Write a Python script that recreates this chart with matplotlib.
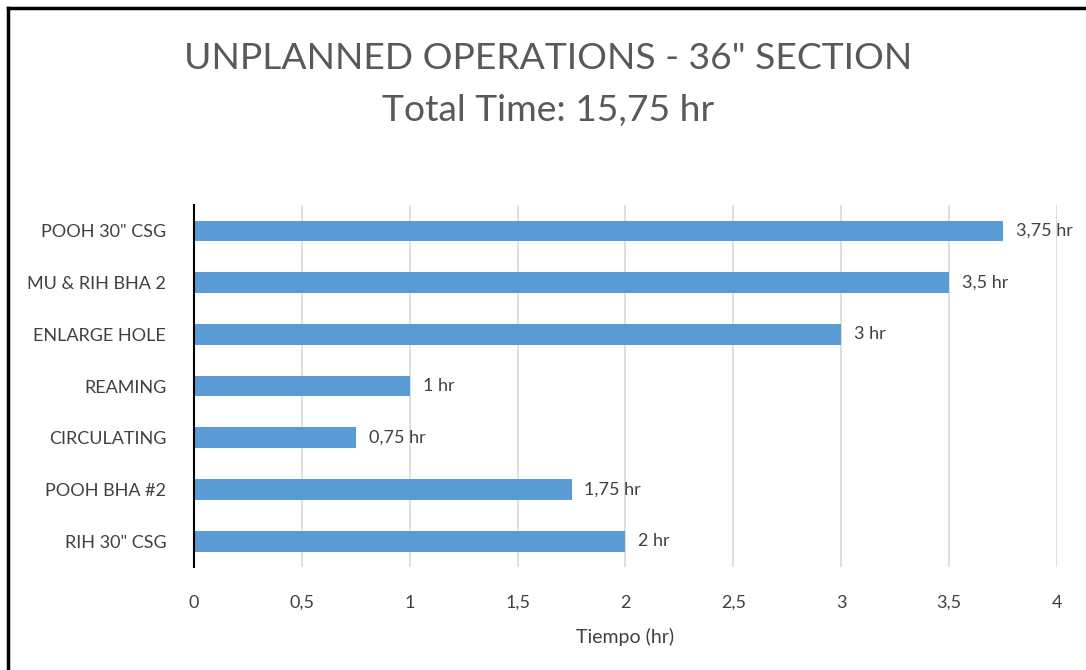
import matplotlib.pyplot as plt
from matplotlib.lines import Line2D

# data (top to bottom as shown)
activities = ['POOH 30" CSG', 'MU & RIH BHA 2', 'ENLARGE HOLE', 'REAMING',
              'CIRCULATING', 'POOH BHA #2', 'RIH 30" CSG']
hours = [3.75, 3.5, 3, 1, 0.75, 1.75, 2]
xticks = [0, 0.5, 1, 1.5, 2, 2.5, 3, 3.5, 4]

plt.rcParams['font.family'] = ['Lato', 'DejaVu Sans']
txt = '#404040'

fig = plt.figure(figsize=(10.86, 6.70), dpi=100)
ax = fig.add_axes([0.1786, 0.1537, 0.7947, 0.5403])

ypos = list(range(len(activities)))[::-1]
ax.barh(ypos, hours, height=0.4, color='#5B9BD5', zorder=3)

for y, h in zip(ypos, hours):
    lab = ('%g' % h).replace('.', ',') + ' hr'
    ax.text(h + 0.06, y, lab, va='center', ha='left', fontsize=13, color=txt)

ax.set_xlim(0, 4)
ax.set_ylim(-0.5, len(activities) - 0.5)
ax.set_xticks(xticks)
ax.set_xticklabels([('%g' % t).replace('.', ',') for t in xticks])
ax.set_yticks(ypos)
ax.set_yticklabels(activities)
ax.tick_params(axis='both', length=0, labelsize=13, labelcolor=txt)
ax.tick_params(axis='x', pad=20)
ax.tick_params(axis='y', pad=20)
ax.grid(axis='x', color='#D9D9D9', linewidth=1.2, zorder=0)
for s in ['top', 'right', 'bottom']:
    ax.spines[s].set_visible(False)
ax.spines['left'].set_color('#000000')
ax.spines['left'].set_linewidth(1.5)
ax.spines['left'].set_zorder(4)

ax.set_xlabel('Tiempo (hr)', fontsize=14, color=txt, labelpad=12)

fig.text(0.505, 0.912, 'UNPLANNED OPERATIONS - 36" SECTION', ha='center', va='center',
         fontsize=26.8, color='#595959')
fig.text(0.505, 0.835, 'Total Time: 15,75 hr', ha='center', va='center',
         fontsize=26.8, color='#595959')

# chart frame (only top and left edges visible in the crop)
fig.add_artist(Line2D([0.0074, 1.0], [0.988, 0.988], color='black', lw=2.5, transform=fig.transFigure))
fig.add_artist(Line2D([0.0074, 0.0074], [0.0, 0.988], color='black', lw=2.5, transform=fig.transFigure))

fig.savefig('out.png', dpi=100)
